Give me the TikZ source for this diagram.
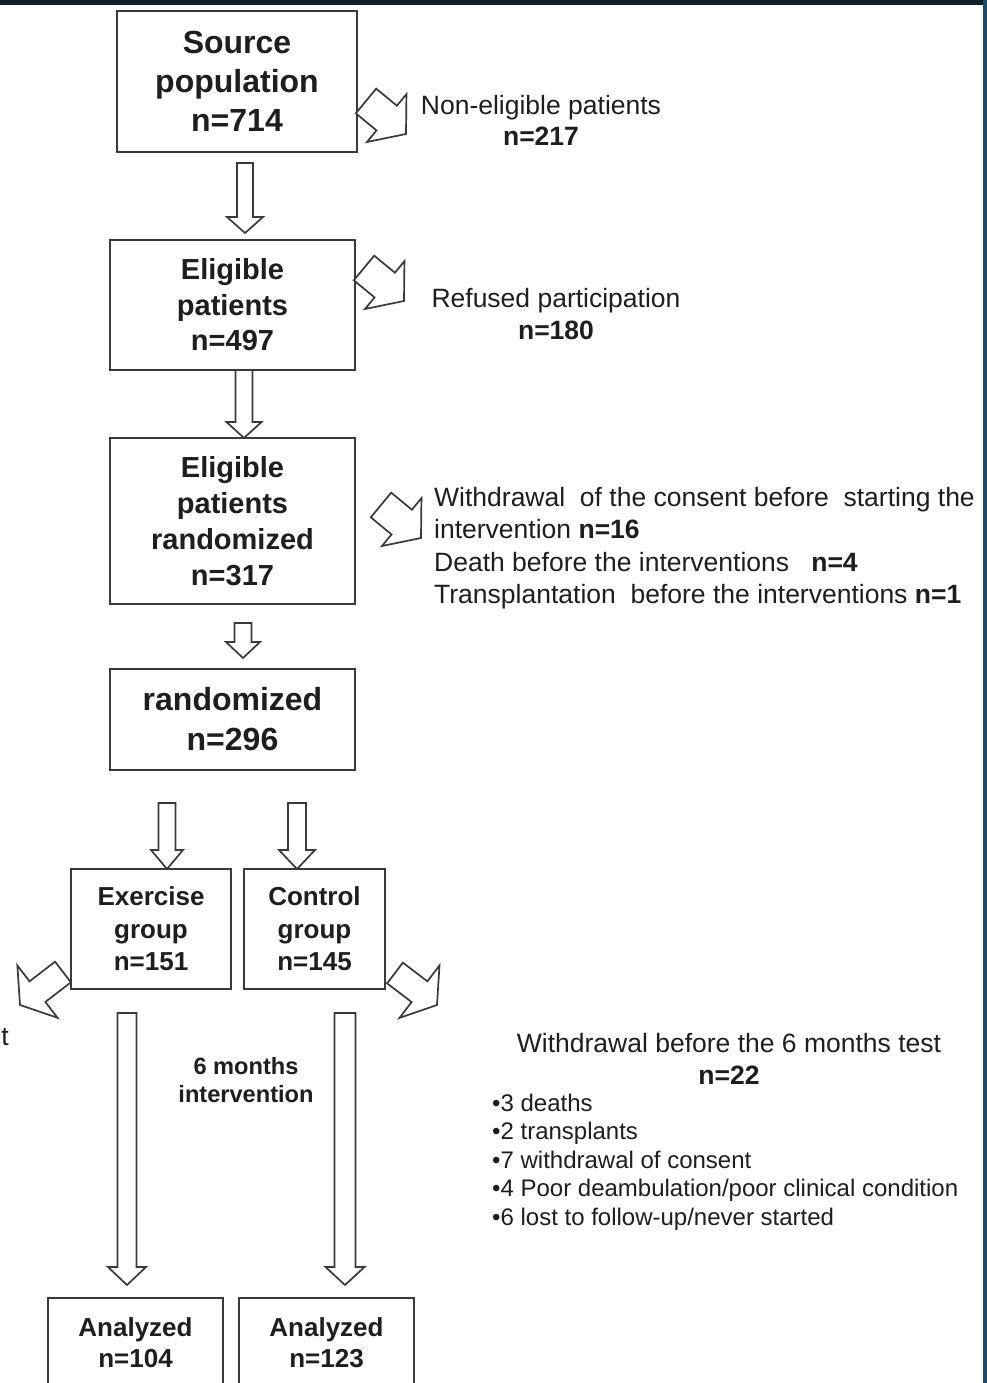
\documentclass[tikz,border=0pt]{standalone}
\usepackage{fontspec}
\setmainfont{Liberation Sans}
\usetikzlibrary{calc}
\definecolor{ink}{HTML}{1E1E1E}
\definecolor{lin}{HTML}{3A3A3A}
\definecolor{topbar}{HTML}{10202B}
\definecolor{sidebar}{HTML}{1F4A66}
\tikzset{
  box/.style={draw=lin, line width=2pt, fill=white, rectangle, align=center, text=ink, inner sep=0pt},
  blockarr/.style={draw=lin, line width=1.7pt, fill=white, line join=miter},
  lbl/.style={text=ink, inner sep=0pt},
}
% block arrow from tail coordinate #1 to tip coordinate #2
% #3 half shaft width, #4 half head width, #5 head length
\newcommand\blockarrow[5]{%
  \path let \p1=(#1), \p2=(#2) in
    \pgfextra{\pgfmathsetmacro\bkang{atan2(\y2-\y1,\x2-\x1)}%
              \pgfmathsetmacro\bklen{veclen(\x2-\x1,\y2-\y1)}%
              \global\let\bkang\bkang\global\let\bklen\bklen};
  \draw[blockarr, shift={(#1)}, rotate=\bkang]
    (0,-#3) -- ({\bklen-#5},-#3) -- ({\bklen-#5},-#4) -- (\bklen,0)
    -- ({\bklen-#5},#4) -- ({\bklen-#5},#3) -- (0,#3) -- cycle;
}
\begin{document}
\begin{tikzpicture}[x=1pt,y=-1pt]
\useasboundingbox (0,0) rectangle (987,1383);
\clip (0,0) rectangle (987,1383);
\fill[white] (0,0) rectangle (987,1383);
\fill[topbar] (0,0) rectangle (987,5);
\fill[sidebar] (983,0) rectangle (987,1383);

% boxes
\node[box, minimum width=240pt, minimum height=141pt, font=\bfseries\fontsize{32}{39}\selectfont]
  (src) at (237,81.5) {Source\\population\\n=714};
\node[box, minimum width=245pt, minimum height=130pt, font=\bfseries\fontsize{29}{35.5}\selectfont]
  (elig) at (232.5,305) {Eligible\\patients\\n=497};
\node[box, minimum width=245pt, minimum height=166pt, font=\bfseries\fontsize{29}{36}\selectfont]
  (elrand) at (232.5,521) {Eligible\\patients\\randomized\\n=317};
\node[box, minimum width=245pt, minimum height=101pt, font=\bfseries\fontsize{32}{40}\selectfont]
  (rand) at (232.5,719.5) {randomized\\n=296};
\node[box, minimum width=160pt, minimum height=120pt, font=\bfseries\fontsize{26}{32.5}\selectfont]
  (exer) at (151,929) {Exercise\\group\\n=151};
\node[box, minimum width=141pt, minimum height=120pt, font=\bfseries\fontsize{26}{32.5}\selectfont]
  (ctrl) at (314.5,929) {Control\\group\\n=145};
\node[box, minimum width=175pt, minimum height=90pt, font=\bfseries\fontsize{26}{31}\selectfont]
  (anex) at (135.5,1343) {Analyzed\\n=104};
\node[box, minimum width=175pt, minimum height=90pt, font=\bfseries\fontsize{26}{31}\selectfont]
  (anct) at (326.5,1343) {Analyzed\\n=123};

% side texts
\node[lbl, align=center, font=\fontsize{26.5}{31}\selectfont] (nonel) at (541,120)
  {Non-eligible patients\\\textbf{n=217}};
\node[lbl, align=center, font=\fontsize{26.5}{32}\selectfont] (refused) at (556,314)
  {Refused participation\\\textbf{n=180}};
\node[lbl, align=left, anchor=west, font=\fontsize{26.5}{32.3}\selectfont] (withd) at (434,548)
  {Withdrawal\ \ of the consent before\ \ starting the\\
   intervention \textbf{n=16}\\
   Death before the interventions\ \ \ \textbf{n=4}\\
   Transplantation\ \ before the interventions \textbf{n=1}};
\node[lbl, align=center, font=\bfseries\fontsize{23.6}{28}\selectfont] (sixm) at (246,1080)
  {6 months\\intervention};
\node[lbl, align=center, font=\fontsize{26.5}{32}\selectfont] (wd6) at (729,1059)
  {Withdrawal before the 6 months test\\\textbf{n=22}};
\node[lbl, align=left, anchor=west, font=\fontsize{24}{28.5}\selectfont] (bul) at (492,1162)
  {•3 deaths\\•2 transplants\\•7 withdrawal of consent\\•4 Poor deambulation/poor clinical condition\\•6 lost to follow-up/never started};
\node[lbl, anchor=east, font=\fontsize{26.5}{31}\selectfont] (tcut) at (9,1037) {t};

% connector end points
\coordinate (a1s) at (245,163);   \coordinate (a1e) at (245,233);
\coordinate (a2s) at (244,370);   \coordinate (a2e) at (244,438);
\coordinate (a3s) at (243,623);   \coordinate (a3e) at (243,658);
\coordinate (a4s) at (167,803);   \coordinate (a4e) at (167,869);
\coordinate (a5s) at (297,803);   \coordinate (a5e) at (297,869);
\coordinate (a6s) at (127,1013);  \coordinate (a6e) at (127,1285);
\coordinate (a7s) at (345,1013);  \coordinate (a7e) at (345,1285);
\coordinate (d1s) at (366,101);   \coordinate (d1e) at (406,134);
\coordinate (d2s) at (364,268);   \coordinate (d2e) at (404,301);
\coordinate (d3s) at (381,505);   \coordinate (d3e) at (421,538);
\coordinate (d4s) at (63,972);    \coordinate (d4e) at (20,1005);
\coordinate (d5s) at (395,973);   \coordinate (d5e) at (437,1005);

% vertical block arrows
\blockarrow{a1s}{a1e}{8}{18}{16}
\blockarrow{a2s}{a2e}{8.5}{17.5}{16}
\blockarrow{a3s}{a3e}{8.5}{17}{16}
\blockarrow{a4s}{a4e}{8.5}{16}{19}
\blockarrow{a5s}{a5e}{9}{18}{19}
\blockarrow{a6s}{a6e}{9.5}{19}{18}
\blockarrow{a7s}{a7e}{10.5}{19.5}{18}
% diagonal block arrows
\blockarrow{d1s}{d1e}{16}{31}{25}
\blockarrow{d2s}{d2e}{16}{31}{25}
\blockarrow{d3s}{d3e}{16}{31}{25}
\blockarrow{d4s}{d4e}{13}{33}{22}
\blockarrow{d5s}{d5e}{13}{33}{22}
\end{tikzpicture}
\end{document}
